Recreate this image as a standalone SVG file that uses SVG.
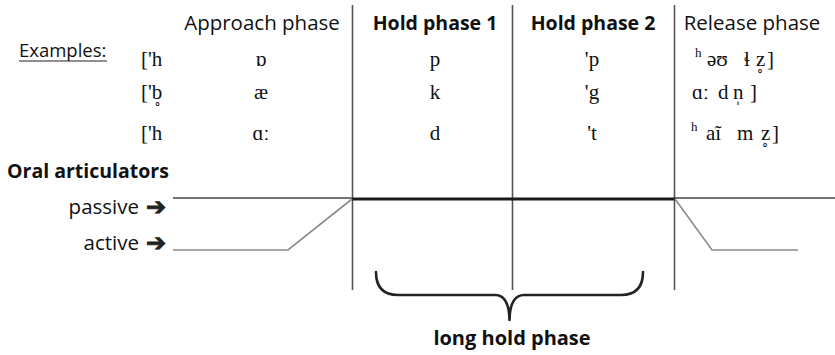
<svg xmlns="http://www.w3.org/2000/svg" width="835" height="355" viewBox="0 0 835 355">
<style>
.sans{font-family:"Open Sans","Noto Sans","DejaVu Sans",sans-serif;fill:#111}
.b{font-weight:bold}
.ipa{font-family:"Liberation Serif","DejaVu Serif",serif;font-size:21px;fill:#111}
.mk{font-family:"DejaVu Serif","Liberation Serif",serif;font-size:14px}
.sup{font-size:13px}
.arr{font-family:"DejaVu Sans",sans-serif;font-weight:bold;font-size:24px;fill:#222;stroke:#222;stroke-width:0.9}
.vline{stroke:#555;stroke-width:1.6;fill:none}
.thin{stroke:#444;stroke-width:1.5;fill:none}
.thick{stroke:#1a1a1a;stroke-width:3;fill:none}
.act{stroke:#8a8a8a;stroke-width:1.6;fill:none}
.brace{stroke:#222;stroke-width:2.6;fill:none;stroke-linecap:round;stroke-linejoin:round}
</style>
<rect width="835" height="355" fill="#fff"/>
<g id="connectors">
<line class="vline" x1="352.5" y1="5" x2="352.5" y2="290"/>
<line class="vline" x1="512.5" y1="5" x2="512.5" y2="290"/>
<line class="vline" x1="674.5" y1="5" x2="674.5" y2="290"/>
<line class="thin" x1="173" y1="198" x2="352" y2="198"/>
<line class="thick" x1="352" y1="199" x2="675" y2="199"/>
<line class="thin" x1="675" y1="198" x2="835" y2="198"/>
<polyline class="act" points="173,250 288,250 352,199"/>
<polyline class="act" points="675,199 712,250 798,250"/>
</g>
<g id="headers" class="sans">
<text x="262" y="30" font-size="20.5" text-anchor="middle">Approach phase</text>
<text x="435" y="30" font-size="19.5" class="b" text-anchor="middle">Hold phase 1</text>
<text x="593" y="30" font-size="19.5" class="b" text-anchor="middle">Hold phase 2</text>
<text x="752" y="30" font-size="20.5" text-anchor="middle">Release phase</text>
</g>
<g id="examples-label">
<text class="sans" x="19" y="57" font-size="18.5">Examples:</text>
<line x1="19" y1="61" x2="107" y2="61" stroke="#222" stroke-width="1.2"/>
</g>
<g id="examples" class="ipa">
<text x="141" y="66">['h</text>
<text x="141" y="99">['b<tspan class="mk" x="154" y="102">˳</tspan></text>
<text x="141" y="140">['h</text>
<text x="261" y="66" text-anchor="middle">ɒ</text>
<text x="261" y="99" text-anchor="middle">æ</text>
<text x="261" y="140" text-anchor="middle">ɑː</text>
<text x="435" y="66" text-anchor="middle">p</text>
<text x="435" y="99" text-anchor="middle">k</text>
<text x="435" y="140" text-anchor="middle">d</text>
<text x="592" y="66" text-anchor="middle">'p</text>
<text x="592" y="99" text-anchor="middle">'g</text>
<text x="592" y="140" text-anchor="middle">'t</text>
<text y="66"><tspan class="sup" x="695" y="57">h</tspan><tspan x="707" y="66">əʊ</tspan><tspan x="744">ɬ</tspan><tspan x="756">z</tspan><tspan class="mk" x="756.5" y="69">˳</tspan><tspan x="767" y="66">]</tspan></text>
<text y="99"><tspan x="692">ɑː</tspan><tspan x="718">d</tspan><tspan x="733">n</tspan><tspan class="mk" x="736" y="103">ˌ</tspan><tspan x="750" y="99">]</tspan></text>
<text y="140"><tspan class="sup" x="691" y="131">h</tspan><tspan x="706" y="140">aĩ</tspan><tspan x="737">m</tspan><tspan x="761">z</tspan><tspan class="mk" x="761.5" y="143">˳</tspan><tspan x="772" y="140">]</tspan></text>
</g>
<g id="articulators">
<text class="sans b" x="7" y="178" font-size="19.5">Oral articulators</text>
<text class="sans" x="139" y="214" font-size="20.5" text-anchor="end">passive</text>
<text class="arr" x="146" y="215">➔</text>
<text class="sans" x="139" y="250" font-size="20.5" text-anchor="end">active</text>
<text class="arr" x="146" y="251">➔</text>
</g>
<g id="brace">
<path class="brace" d="M376,272 Q376,295 398,295 L495,295 Q509,295 509.5,320 Q510,295 524,295 L621,295 Q643,295 643,272"/>
</g>
<g id="long-hold-label">
<text class="sans b" x="512" y="345" font-size="20" text-anchor="middle">long hold phase</text>
</g>
</svg>
